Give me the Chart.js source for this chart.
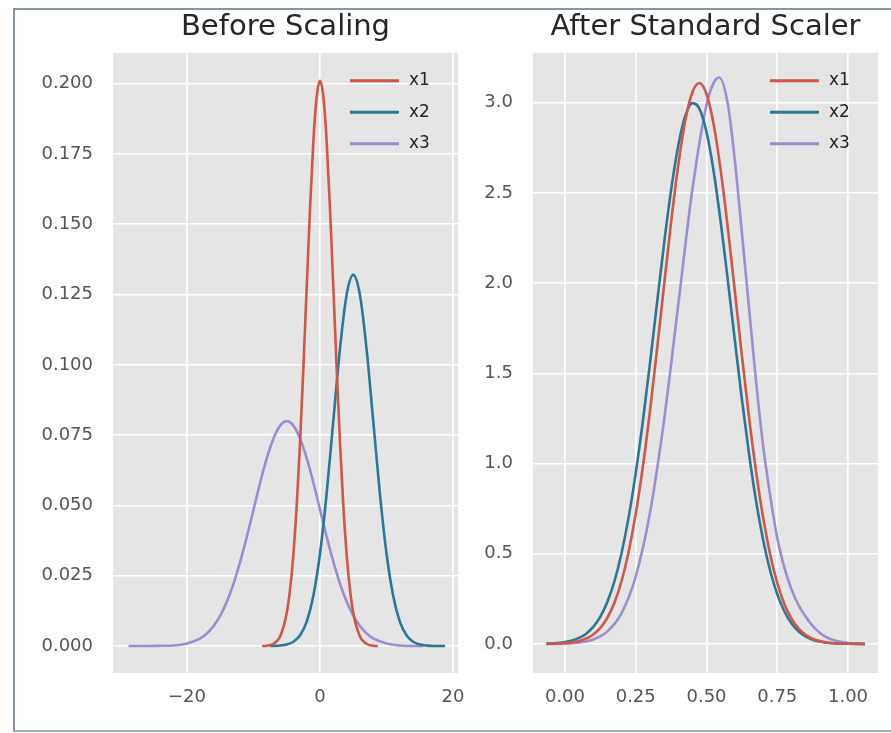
<!DOCTYPE html>
<html>
<head>
<meta charset="utf-8">
<script src="https://cdn.jsdelivr.net/npm/chart.js@4.4.1/dist/chart.umd.min.js"></script>
<style>
html,body{margin:0;padding:0;background:#fff;width:891px;height:733px;overflow:hidden;}
#frame{position:absolute;left:13px;top:8px;width:878px;height:724px;box-sizing:border-box;border-left:2px solid #8795a3;border-top:2px solid #8795a3;border-bottom:2px solid #a3b0bc;}
.box{position:absolute;}
#leftBox{left:15px;top:10px;width:450px;height:715px;}
#rightBox{left:465px;top:10px;width:424px;height:715px;}
</style>
</head>
<body>
<div id="frame"></div>
<div class="box" id="leftBox"><canvas id="leftChart"></canvas></div>
<div class="box" id="rightBox"><canvas id="rightChart"></canvas></div>
<script>
// ---------- data ----------
const titles = ['Before Scaling', 'After Standard Scaler'];
const seriesNames = ['x1', 'x2', 'x3'];
const seriesColors = ['#CF5648', '#2B7896', '#988ED0'];

// Before scaling (KDE curves)
const x1X = [-8.7, -8, -7, -6, -5, -4.5, -4, -3.5, -3, -2.5, -2, -1.5, -1, -0.5, 0, 0.5, 1, 1.5, 2, 2.5, 3, 3.5, 4, 4.5, 5, 6, 7, 8, 8.7];
const x1Y = [0.0000, 0.0001, 0.0008, 0.0034, 0.0118, 0.0202, 0.0328, 0.0501, 0.0725, 0.0990, 0.1277, 0.1557, 0.1795, 0.1954, 0.2010, 0.1954, 0.1795, 0.1557, 0.1277, 0.0990, 0.0725, 0.0501, 0.0328, 0.0202, 0.0118, 0.0034, 0.0008, 0.0001, 0.0000];

const x2X = [-7.5, -6, -5, -4, -3, -2, -1, 0, 1, 2, 3, 4, 5, 6, 7, 8, 9, 10, 11, 12, 13, 14, 15, 16, 17, 18.8];
const x2Y = [0.0000, 0.0002, 0.0005, 0.0015, 0.0038, 0.0087, 0.0179, 0.0329, 0.0543, 0.0801, 0.1057, 0.1249, 0.1320, 0.1249, 0.1057, 0.0801, 0.0543, 0.0329, 0.0179, 0.0087, 0.0038, 0.0015, 0.0005, 0.0002, 0.0000, 0.0000];

const x3X = [-28.8, -26, -24, -22, -20, -18, -17, -16, -15, -14, -13, -12, -11, -10, -9, -8, -7, -6, -5, -4, -3, -2, -1, 0, 1, 2, 3, 4, 5, 6, 7, 8, 10, 12, 14, 15.5];
const x3Y = [0.0000, 0.0000, 0.0001, 0.0002, 0.0009, 0.0027, 0.0045, 0.0071, 0.0108, 0.0158, 0.0222, 0.0300, 0.0389, 0.0485, 0.0581, 0.0668, 0.0738, 0.0784, 0.0800, 0.0784, 0.0738, 0.0668, 0.0581, 0.0485, 0.0389, 0.0300, 0.0222, 0.0158, 0.0108, 0.0071, 0.0045, 0.0027, 0.0009, 0.0002, 0.0000, 0.0000];

// After scaling (KDE curves)
const s12X = [-0.065, -0.025, 0, 0.025, 0.05, 0.075, 0.1, 0.125, 0.15, 0.175, 0.2, 0.225, 0.25, 0.275, 0.3, 0.325, 0.35, 0.375, 0.4, 0.425, 0.45, 0.475, 0.5, 0.525, 0.55, 0.575, 0.6, 0.625, 0.65, 0.675, 0.7, 0.725, 0.75, 0.775, 0.8, 0.825, 0.85, 0.875, 0.9, 0.925, 0.95, 1.0, 1.06];
const s1Y = [0.0007, 0.0022, 0.0045, 0.0087, 0.0165, 0.0301, 0.0528, 0.0894, 0.146, 0.230, 0.349, 0.511, 0.721, 0.981, 1.287, 1.629, 1.987, 2.338, 2.651, 2.900, 3.058, 3.110, 3.049, 2.883, 2.628, 2.310, 1.958, 1.600, 1.261, 0.958, 0.702, 0.496, 0.338, 0.222, 0.141, 0.086, 0.0505, 0.0287, 0.0157, 0.0083, 0.0042, 0.0010, 0.0001];
const s2Y = [0.0018, 0.0054, 0.0102, 0.0188, 0.0333, 0.0571, 0.0946, 0.151, 0.234, 0.349, 0.504, 0.703, 0.947, 1.233, 1.552, 1.887, 2.217, 2.517, 2.761, 2.927, 2.998, 2.967, 2.838, 2.623, 2.342, 2.021, 1.685, 1.358, 1.057, 0.795, 0.578, 0.406, 0.276, 0.181, 0.115, 0.070, 0.0415, 0.0237, 0.0131, 0.0070, 0.0036, 0.0009, 0.0001];
const s3X = [-0.065, 0, 0.05, 0.1, 0.15, 0.2, 0.25, 0.3, 0.35, 0.4, 0.45, 0.5, 0.525, 0.545, 0.575, 0.6, 0.625, 0.65, 0.675, 0.7, 0.725, 0.75, 0.775, 0.8, 0.825, 0.85, 0.875, 0.9, 0.925, 0.95, 1.0, 1.06];
const s3Y = [0.0002, 0.0022, 0.0079, 0.0249, 0.0695, 0.171, 0.374, 0.724, 1.239, 1.878, 2.518, 2.988, 3.109, 3.140, 2.996, 2.683, 2.280, 1.869, 1.459, 1.100, 0.823, 0.588, 0.425, 0.304, 0.216, 0.152, 0.100, 0.062, 0.036, 0.020, 0.005, 0.0005];

// ticks
const leftXTicks = [-20, 0, 20];
const leftXLabels = ['\u221220', '0', '20'];
const leftYTicks = [0, 0.025, 0.05, 0.075, 0.1, 0.125, 0.15, 0.175, 0.2];
const leftYLabels = ['0.000', '0.025', '0.050', '0.075', '0.100', '0.125', '0.150', '0.175', '0.200'];
const rightXTicks = [0, 0.25, 0.5, 0.75, 1];
const rightXLabels = ['0.00', '0.25', '0.50', '0.75', '1.00'];
const rightYTicks = [0, 0.5, 1, 1.5, 2, 2.5, 3];
const rightYLabels = ['0.0', '0.5', '1.0', '1.5', '2.0', '2.5', '3.0'];

// axis ranges
const leftXRange = [-31.13, 20.75];
const leftYRange = [-0.0096, 0.2110];
const rightXRange = [-0.113, 1.106];
const rightYRange = [-0.161, 3.277];

// ---------- helpers ----------
const FONT = '"DejaVu Sans", "Liberation Sans", sans-serif';
Chart.defaults.font.family = FONT;

function pts(xs, ys) { return xs.map((x, i) => ({x: x, y: ys[i]})); }

const plotBg = {
  id: 'plotBg',
  beforeDraw(chart) {
    const a = chart.chartArea, c = chart.ctx;
    c.save(); c.fillStyle = '#E5E5E5';
    c.fillRect(a.left, a.top, a.right - a.left, a.bottom - a.top);
    c.restore();
  }
};

const insideLegend = {
  id: 'insideLegend',
  afterDatasetsDraw(chart) {
    const a = chart.chartArea, c = chart.ctx;
    c.save();
    chart.data.datasets.forEach((ds, i) => {
      const y = a.top + 28 + i * 31.5;
      c.strokeStyle = ds.borderColor; c.lineWidth = 3; c.lineCap = 'butt';
      c.beginPath(); c.moveTo(a.right - 108, y); c.lineTo(a.right - 59, y); c.stroke();
      c.fillStyle = '#262626'; c.font = '17px ' + FONT;
      c.textBaseline = 'middle'; c.textAlign = 'left';
      c.fillText(ds.label, a.right - 49, y);
    });
    c.restore();
  }
};

function makeChart(id, title, sets, xr, yr, xT, xL, yT, yL, yAxisWidth, padRight) {
  return new Chart(document.getElementById(id), {
    type: 'line',
    data: {
      datasets: sets.map((s, i) => ({
        label: seriesNames[i], data: s, borderColor: seriesColors[i],
        borderWidth: 2.6, pointRadius: 0, fill: false,
        cubicInterpolationMode: 'monotone'
      }))
    },
    options: {
      responsive: true, maintainAspectRatio: false, animation: false, events: [],
      layout: {padding: {left: 0, right: padRight, top: 0, bottom: 0}},
      plugins: {
        legend: {display: false}, tooltip: {enabled: false},
        title: {display: true, text: title, fullSize: false, color: '#262626',
                font: {size: 29, weight: 'normal', family: FONT, lineHeight: 1.2},
                padding: {top: 0, bottom: 8}}
      },
      scales: {
        x: {
          type: 'linear', min: xr[0], max: xr[1],
          afterBuildTicks: s => { s.ticks = xT.map(v => ({value: v})); },
          afterFit: s => { s.height = 52; s.paddingLeft = 0; s.paddingRight = 0; },
          ticks: {autoSkip: false, maxRotation: 0, padding: 14, color: '#555555',
                  font: {size: 18, family: FONT},
                  callback: v => xL[xT.indexOf(v)]},
          grid: {color: '#FFFFFF', lineWidth: 1.6, drawTicks: false},
          border: {display: false}
        },
        y: {
          type: 'linear', min: yr[0], max: yr[1],
          afterBuildTicks: s => { s.ticks = yT.map(v => ({value: v})); },
          afterFit: s => { s.width = yAxisWidth; s.paddingTop = 0; s.paddingBottom = 0; },
          ticks: {autoSkip: false, padding: 20, color: '#555555',
                  font: {size: 18, family: FONT},
                  callback: v => yL[yT.indexOf(v)]},
          grid: {color: '#FFFFFF', lineWidth: 1.6, drawTicks: false},
          border: {display: false}
        }
      }
    },
    plugins: [plotBg, insideLegend]
  });
}

makeChart('leftChart', titles[0],
  [pts(x1X, x1Y), pts(x2X, x2Y), pts(x3X, x3Y)],
  leftXRange, leftYRange, leftXTicks, leftXLabels, leftYTicks, leftYLabels, 98, 7);

makeChart('rightChart', titles[1],
  [pts(s12X, s1Y), pts(s12X, s2Y), pts(s3X, s3Y)],
  rightXRange, rightYRange, rightXTicks, rightXLabels, rightYTicks, rightYLabels, 68, 11);
</script>
</body>
</html>
